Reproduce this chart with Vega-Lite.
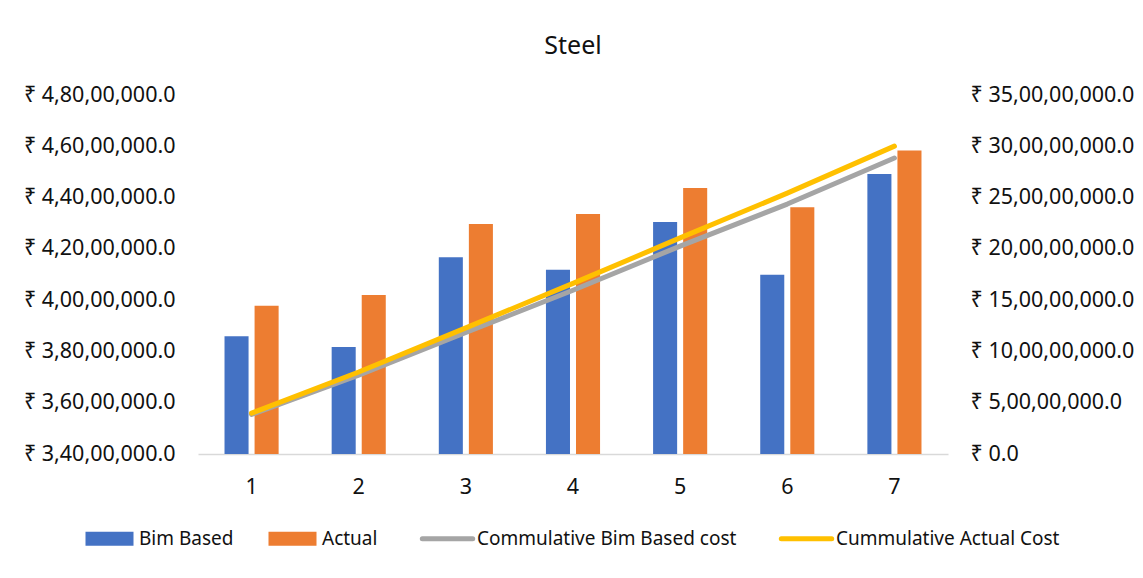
{
  "$schema": "https://vega.github.io/schema/vega-lite/v6.json",
  "width": 750,
  "height": 359,
  "padding": {"left": 23, "top": 34, "right": 8, "bottom": 20},
  "background": "white",
  "title": {"text": "Steel", "fontSize": 25, "font": "Noto Sans", "fontWeight": "normal", "color": "#111", "anchor": "middle", "offset": 25},
  "config": {
    "view": {"stroke": null},
    "font": "Noto Sans",
    "axis": {"labelFont": "Noto Sans", "labelColor": "#111", "labelFontSize": 21.5, "grid": false, "ticks": false, "title": null}
  },
  "datasets": {
    "bars": [
      {"n": "1", "series": "Bim Based", "cost": 38590000},
      {"n": "1", "series": "Actual", "cost": 39780000},
      {"n": "2", "series": "Bim Based", "cost": 38170000},
      {"n": "2", "series": "Actual", "cost": 40200000},
      {"n": "3", "series": "Bim Based", "cost": 41670000},
      {"n": "3", "series": "Actual", "cost": 42970000},
      {"n": "4", "series": "Bim Based", "cost": 41190000},
      {"n": "4", "series": "Actual", "cost": 43360000},
      {"n": "5", "series": "Bim Based", "cost": 43050000},
      {"n": "5", "series": "Actual", "cost": 44370000},
      {"n": "6", "series": "Bim Based", "cost": 40990000},
      {"n": "6", "series": "Actual", "cost": 43620000},
      {"n": "7", "series": "Bim Based", "cost": 44920000},
      {"n": "7", "series": "Actual", "cost": 45840000}
    ],
    "lines": [
      {"n": "1", "series": "Commulative Bim Based cost", "cum": 38590000},
      {"n": "2", "series": "Commulative Bim Based cost", "cum": 76760000},
      {"n": "3", "series": "Commulative Bim Based cost", "cum": 118430000},
      {"n": "4", "series": "Commulative Bim Based cost", "cum": 159620000},
      {"n": "5", "series": "Commulative Bim Based cost", "cum": 202670000},
      {"n": "6", "series": "Commulative Bim Based cost", "cum": 243660000},
      {"n": "7", "series": "Commulative Bim Based cost", "cum": 288580000},
      {"n": "1", "series": "Cummulative Actual Cost", "cum": 39780000},
      {"n": "2", "series": "Cummulative Actual Cost", "cum": 79980000},
      {"n": "3", "series": "Cummulative Actual Cost", "cum": 122950000},
      {"n": "4", "series": "Cummulative Actual Cost", "cum": 166310000},
      {"n": "5", "series": "Cummulative Actual Cost", "cum": 210680000},
      {"n": "6", "series": "Cummulative Actual Cost", "cum": 254300000},
      {"n": "7", "series": "Cummulative Actual Cost", "cum": 300140000}
    ]
  },
  "layer": [
    {
      "data": {"name": "bars"},
      "mark": {"type": "bar"},
      "encoding": {
        "x": {
          "field": "n", "type": "ordinal",
          "scale": {"paddingInner": 0.495, "paddingOuter": 0.2475},
          "axis": {"labelAngle": 0, "domain": true, "domainColor": "#D9D9D9", "domainWidth": 1.5, "labelPadding": 22}
        },
        "xOffset": {"field": "series", "sort": ["Bim Based", "Actual"], "scale": {"paddingInner": 0.2, "paddingOuter": 0}},
        "y": {
          "field": "cost", "type": "quantitative",
          "scale": {"domain": [34000000, 48000000], "zero": false, "nice": false},
          "axis": {
            "orient": "left", "domain": false, "labelPadding": 23,
            "values": [34000000, 36000000, 38000000, 40000000, 42000000, 44000000, 46000000, 48000000],
            "labelExpr": "'₹ ' + replace(format(datum.value, 'd'), regexp('([0-9])(?=([0-9][0-9])+[0-9]$)', 'g'), '$1,') + '.0'"
          }
        },
        "y2": {"datum": 34000000},
        "color": {
          "field": "series", "type": "nominal",
          "scale": {
            "domain": ["Bim Based", "Actual", "Commulative Bim Based cost", "Cummulative Actual Cost"],
            "range": ["#4472C4", "#ED7D31", "#A5A5A5", "#FFC000"]
          },
          "legend": {
            "title": null, "orient": "none", "direction": "horizontal", "legendX": -98, "legendY": 434,
            "labelFont": "Noto Sans", "labelFontSize": 19, "labelColor": "#111", "labelLimit": 0,
            "symbolSize": 2304, "labelOffset": 20, "columnPadding": 34,
            "encode": {
              "symbols": {
                "update": {
                  "shape": {"signal": "datum.value == 'Bim Based' || datum.value == 'Actual' ? 'M-1,-0.29H1V0.29H-1Z' : 'M-1.05,0H1.05'"},
                  "fill": {"signal": "datum.value == 'Bim Based' || datum.value == 'Actual' ? scale('color', datum.value) : 'transparent'"},
                  "stroke": {"signal": "scale('color', datum.value)"},
                  "strokeWidth": {"signal": "datum.value == 'Bim Based' || datum.value == 'Actual' ? 0 : 5"},
                  "strokeCap": {"value": "round"},
                  "opacity": {"value": 1},
                  "fillOpacity": {"value": 1},
                  "strokeOpacity": {"value": 1}
                }
              }
            }
          }
        }
      }
    },
    {
      "data": {"name": "lines"},
      "mark": {"type": "line", "strokeWidth": 5, "strokeCap": "round", "strokeJoin": "round"},
      "encoding": {
        "x": {"field": "n", "type": "ordinal"},
        "y": {
          "field": "cum", "type": "quantitative",
          "scale": {"domain": [0, 350000000], "nice": false},
          "axis": {
            "orient": "right", "domain": false, "labelPadding": 22,
            "values": [0, 50000000, 100000000, 150000000, 200000000, 250000000, 300000000, 350000000],
            "labelExpr": "'₹ ' + replace(format(datum.value, 'd'), regexp('([0-9])(?=([0-9][0-9])+[0-9]$)', 'g'), '$1,') + '.0'"
          }
        },
        "color": {"field": "series", "type": "nominal"}
      }
    }
  ],
  "resolve": {"scale": {"y": "independent"}}
}
